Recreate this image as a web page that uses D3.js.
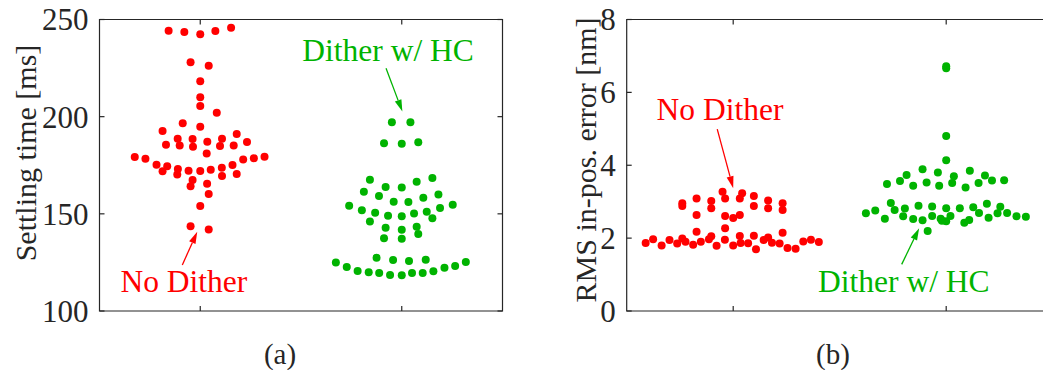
<!DOCTYPE html>
<html>
<head>
<meta charset="utf-8">
<script src="https://cdnjs.cloudflare.com/ajax/libs/d3/7.8.5/d3.min.js"></script>
<style>
  body { margin: 0; background: #fff; }
</style>
</head>
<body>
<svg id="chart" width="1043" height="370"></svg>
<script>
// settling time [ms], value + horizontal swarm offset (category units)
const settleNoDither = [244.2,243.6,242.4,244.1,245.8,228.0,226.2,218.2,210.0,205.5,202.0,196.6,194.8,192.6,191.1,188.7,188.5,188.7,185.6,185.1,184.5,187.1,184.9,185.2,187.0,181.1,179.2,178.4,179.4,178.6,177.9,175.3,174.5,171.9,173.1,170.3,172.2,172.0,172.7,173.7,169.5,175.1,170.5,167.4,164.2,165.5,160.2,154.0,143.6,142.0];
const settleNoDitherOff = [-0.157,-0.079,0,0.075,0.153,-0.048,0.042,0,0,0,0.082,-0.087,0,-0.187,0.181,-0.112,-0.038,0.108,-0.17,-0.102,-0.036,0.035,0.098,0.166,0.232,0.032,-0.325,-0.272,0.319,0.266,0.213,-0.217,-0.164,-0.187,-0.111,-0.114,-0.058,0,0.052,0.107,0.108,0.16,0.181,-0.038,-0.048,0.034,0.042,0,-0.048,0.042];

const settleDither = [197.1,197.1,186.3,186.1,186.8,167.6,168.4,166.5,163.8,163.6,161.4,160.0,159.2,158.3,156.2,156.1,154.2,154.7,151.8,150.6,149.0,148.7,150.2,151.1,153.0,147.7,146.0,142.9,141.8,143.4,139.6,137.4,137.2,127.4,126.2,125.7,126.4,124.9,125.2,122.6,123.2,120.6,122.3,120.0,120.4,119.5,119.5,118.5,119.5,118.4];
const settleDitherOff = [-0.049,0.043,-0.088,0,0.082,-0.158,0.152,0.074,-0.08,0,-0.188,0.182,-0.113,0.107,-0.04,0.033,-0.261,0.253,-0.198,-0.132,-0.068,0,0.061,0.124,0.19,0.152,-0.158,-0.08,0,0.074,0.082,-0.088,0,-0.125,-0.043,0.036,0.119,-0.327,0.318,-0.273,0.265,-0.219,0.212,-0.164,0.157,-0.112,0.104,-0.058,0.051,0];

// RMS in-position error [nm]
const rmsNoDither = [1.866,1.967,1.80,1.948,1.85,1.99,1.90,1.82,1.90,1.967,2.05,1.79,1.957,1.80,2.058,1.866,1.857,2.067,1.693,1.948,2.02,1.875,1.85,1.73,1.71,1.91,1.957,1.894,2.177,2.27,2.149,2.634,2.607,2.552,2.634,2.955,2.88,3.09,3.02,2.818,3.27,3.09,3.09,3.23,3.156,2.88,3.03,2.818,2.955,2.77];
const rmsNoDitherOff = [-0.411,-0.376,-0.336,-0.299,-0.263,-0.239,-0.224,-0.188,-0.152,-0.114,-0.103,-0.078,-0.039,0,0.031,0.035,0.07,0.097,0.107,0.143,0.164,0.182,0.218,0.255,0.293,0.329,0.365,0.402,-0.172,-0.038,0.232,-0.172,-0.038,0,0.031,-0.239,-0.239,-0.172,-0.103,-0.103,-0.05,-0.038,0.031,0.042,0.097,0.097,0.164,0.164,0.232,0.232];

const rmsDither = [6.72,6.66,4.80,4.14,3.89,3.85,3.73,3.80,3.70,3.72,3.57,3.53,3.51,3.58,3.59,3.485,3.44,3.44,3.39,3.51,2.964,2.89,2.87,2.82,2.82,2.845,2.945,2.86,2.68,2.76,2.77,2.81,2.53,2.60,2.525,2.49,2.607,2.53,2.46,2.607,2.42,2.50,2.69,2.56,2.68,2.69,2.60,2.59,2.195,2.48];
const rmsDitherOff = [0,0,0,0,-0.111,0.111,-0.186,-0.039,0.036,0.182,-0.217,-0.092,0.028,0.215,0.272,-0.278,-0.155,-0.033,0.091,0.152,-0.26,-0.13,-0.066,0,0.064,0.127,0.191,0.254,-0.377,-0.333,-0.242,-0.194,-0.288,-0.202,-0.155,-0.111,-0.066,-0.026,0,0.02,0.085,0.108,0.154,0.199,0.241,0.286,0.33,0.374,-0.087,-0.02];

const settleTicks = [100, 150, 200, 250];
const rmsTicks = [0, 2, 4, 6, 8];

const RED = "#ff0000", GREEN = "#00b300", INK = "#262626";
const FONT = "'Liberation Serif', 'Times New Roman', serif";

const svg = d3.select("#chart");

function label(sel, size, color) {
  return sel.style("font-family", FONT).style("font-size", size + "px").attr("fill", color);
}

function panel(opt) {
  const x = d3.scaleLinear().domain([0.5, 2.5]).range([opt.left, opt.right]);
  const y = d3.scaleLinear().domain(opt.yDomain).range([311, 19.5]);
  const g = svg.append("g");

  // series
  opt.series.forEach(function(s) {
    g.append("g").selectAll("circle")
      .data(s.values.map(function(v, i) { return { v: v, o: s.offsets[i] }; }))
      .enter().append("circle")
      .attr("cx", function(d) { return x(s.cat + d.o); })
      .attr("cy", function(d) { return y(d.v); })
      .attr("r", 4)
      .attr("fill", s.color);
  });

  // box + ticks (inside, mirrored)
  const box = g.append("g").attr("stroke", INK).attr("fill", "none").attr("stroke-width", 1.2);
  box.append("path").attr("d",
    "M" + opt.right + "," + y.range()[1] + "H" + opt.left + "V" + y.range()[0] + "H" + opt.right +
    (opt.closed ? "Z" : ""));
  [1, 2].forEach(function(c) {
    box.append("line").attr("x1", x(c)).attr("x2", x(c)).attr("y1", 311).attr("y2", 306);
    box.append("line").attr("x1", x(c)).attr("x2", x(c)).attr("y1", 19.5).attr("y2", 24.5);
  });
  opt.ticks.forEach(function(t) {
    box.append("line").attr("x1", opt.left).attr("x2", opt.left + 5).attr("y1", y(t)).attr("y2", y(t));
    if (opt.closed) box.append("line").attr("x1", opt.right).attr("x2", opt.right - 5).attr("y1", y(t)).attr("y2", y(t));
  });

  label(g.append("g").selectAll("text")
    .data(opt.ticks)
    .enter().append("text")
    .attr("x", opt.left - 11)
    .attr("y", function(t) { return y(t); })
    .attr("dy", "0.35em")
    .attr("text-anchor", "end"), 31, INK)
    .text(function(t) { return t; });

  label(g.append("text")
    .attr("transform", "translate(" + opt.labelX + "," + opt.labelY + ") rotate(-90)")
    .attr("text-anchor", "middle")
    .attr("dy", "0.35em"), 30, INK)
    .text(opt.label);

  label(g.append("text")
    .attr("x", opt.capX).attr("y", 354).attr("dy", "0.35em")
    .attr("text-anchor", "middle"), 29, INK)
    .text(opt.caption);

  // annotations
  opt.notes.forEach(function(n) {
    label(g.append("text")
      .attr("x", x(n.tx)).attr("y", y(n.ty))
      .attr("text-anchor", "middle"), 31.5, n.color)
      .text(n.text);
    const x0 = x(n.from[0]), y0 = y(n.from[1]), x1 = x(n.to[0]), y1 = y(n.to[1]);
    const a = Math.atan2(y1 - y0, x1 - x0), L = 12, W = 3.5;
    const bx = x1 - L * Math.cos(a), by = y1 - L * Math.sin(a);
    g.append("line").attr("x1", x0).attr("y1", y0).attr("x2", bx).attr("y2", by)
      .attr("stroke", n.color).attr("stroke-width", 1.3);
    g.append("path")
      .attr("d", "M" + x1 + "," + y1 +
        "L" + (bx + W * Math.sin(a)) + "," + (by - W * Math.cos(a)) +
        "L" + (bx - W * Math.sin(a)) + "," + (by + W * Math.cos(a)) + "Z")
      .attr("fill", n.color);
  });
}

panel({
  left: 99.5, right: 502.5, closed: true,
  yDomain: [100, 250], ticks: settleTicks,
  label: "Settling time [ms]", labelX: 25, labelY: 153,
  caption: "(a)", capX: 280,
  series: [
    { cat: 1, values: settleNoDither, offsets: settleNoDitherOff, color: RED },
    { cat: 2, values: settleDither, offsets: settleDitherOff, color: GREEN }
  ],
  notes: [
    { text: "No Dither", color: RED, tx: 0.919, ty: 109.9, from: [0.911, 123.7], to: [0.985, 140.8] },
    { text: "Dither w/ HC", color: GREEN, tx: 1.932, ty: 228.8, from: [1.922, 224.9], to: [2.003, 202.6] }
  ]
});

panel({
  left: 626.7, right: 1052.7, closed: false,
  yDomain: [0, 8], ticks: rmsTicks,
  label: "RMS in-pos. error [nm]", labelX: 585, labelY: 160,
  caption: "(b)", capX: 833,
  series: [
    { cat: 1, values: rmsNoDither, offsets: rmsNoDitherOff, color: RED },
    { cat: 2, values: rmsDither, offsets: rmsDitherOff, color: GREEN }
  ],
  notes: [
    { text: "No Dither", color: RED, tx: 0.938, ty: 5.24, from: [0.925, 4.99], to: [1.0, 3.37] },
    { text: "Dither w/ HC", color: GREEN, tx: 1.801, ty: 0.53, from: [1.791, 1.28], to: [1.873, 2.27] }
  ]
});
</script>
</body>
</html>
